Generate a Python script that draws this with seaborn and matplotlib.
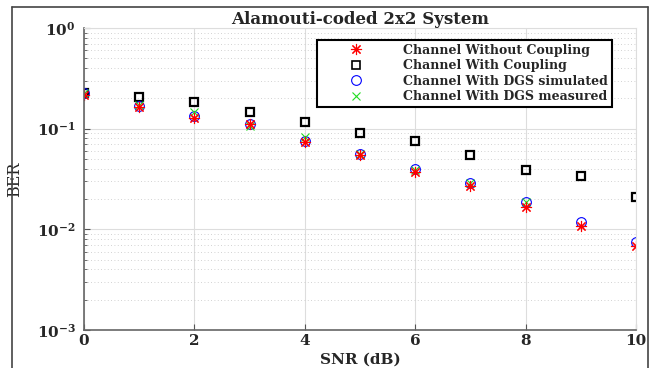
import numpy as np
import pandas as pd
import matplotlib
matplotlib.use("Agg")
import matplotlib.pyplot as plt
import seaborn as sns
from matplotlib.lines import Line2D
from matplotlib.ticker import LogLocator, FixedLocator, FixedFormatter, NullFormatter

snr = [0, 1, 2, 3, 4, 5, 6, 7, 8, 9, 10]
ber_no_coupling = [0.216, 0.165, 0.128, 0.111, 0.074, 0.055, 0.037, 0.027, 0.0167, 0.0108, 0.0068]
ber_coupling = [0.226, 0.208, 0.185, 0.146, 0.117, 0.090, 0.075, 0.0548, 0.0389, 0.0337, 0.0211]
ber_dgs_sim = [0.226, 0.168, 0.134, 0.111, 0.076, 0.056, 0.0395, 0.0291, 0.0187, 0.0119, 0.00755]
ber_dgs_meas = [0.226, 0.172, 0.147, 0.106, 0.083, 0.056, 0.039, 0.029, 0.0187, np.nan, np.nan]
labels = ["Channel Without Coupling", "Channel With Coupling",
          "Channel With DGS simulated", "Channel With DGS measured"]
title = "Alamouti-coded 2x2 System"

sns.set_style("white")
plt.rcParams['font.family'] = ['DejaVu Serif']
plt.rcParams['mathtext.fontset'] = 'dejavuserif'
plt.rcParams['mathtext.default'] = 'bf'

fig = plt.figure(figsize=(6.52, 3.68), dpi=100)
ax = fig.add_axes([84/652, 1-330/368, (636-84)/652, (330-28)/368])

df = pd.DataFrame({"snr": snr, "a": ber_no_coupling, "b": ber_coupling,
                   "c": ber_dgs_sim, "d": ber_dgs_meas})

star = (8, 2, 0)
sq_kw = dict(marker='s', markersize=6, markerfacecolor='none', markeredgecolor='black', markeredgewidth=1.6)
ci_kw = dict(marker='o', markersize=7, markerfacecolor='none', markeredgecolor='blue', markeredgewidth=0.8)
x_kw = dict(marker='x', markersize=6, markeredgecolor='#22dd22', markeredgewidth=0.8)
st_kw = dict(marker=star, markersize=8, markeredgecolor='red', markeredgewidth=0.8)

sns.lineplot(data=df, x="snr", y="b", ax=ax, linestyle='', color='black', **sq_kw)
sns.lineplot(data=df, x="snr", y="c", ax=ax, linestyle='', color='blue', **ci_kw)
sns.lineplot(data=df, x="snr", y="d", ax=ax, linestyle='', color='#22dd22', **x_kw)
sns.lineplot(data=df, x="snr", y="a", ax=ax, linestyle='', color='red', **st_kw)

ax.set_yscale('log')
ax.set_ylim(1e-3, 1)
ax.set_xlim(0, 10)
ax.set_xticks([0, 2, 4, 6, 8, 10])
ax.set_xticklabels(['0', '2', '4', '6', '8', '10'], fontweight='bold', fontsize=11)
ax.yaxis.set_major_locator(FixedLocator([1e-3, 1e-2, 1e-1, 1]))
ax.yaxis.set_major_formatter(FixedFormatter([r'$10^{-3}$', r'$10^{-2}$', r'$10^{-1}$', r'$10^{0}$']))
ax.yaxis.set_minor_locator(LogLocator(base=10, subs=np.arange(2, 10)))
ax.yaxis.set_minor_formatter(NullFormatter())
for t in ax.get_yticklabels():
    t.set_fontsize(11)

ax.grid(True, which='major', axis='both', color='#dddddd', linewidth=0.8, linestyle='-')
ax.grid(True, which='minor', axis='y', color='#c4c4c4', linewidth=0.6, linestyle=(0, (1, 3)))
ax.set_axisbelow(True)

ax.tick_params(axis='x', which='major', direction='in', length=4, color='#555555', pad=3, bottom=True)
ax.tick_params(axis='y', which='major', direction='in', length=4, color='#555555', pad=6, left=True)
ax.tick_params(axis='y', which='minor', direction='in', length=2, color='#555555', left=True)
for s in ['left', 'bottom']:
    ax.spines[s].set_color('#666666')
    ax.spines[s].set_linewidth(1.2)
for s in ['top', 'right']:
    ax.spines[s].set_color('#dddddd')
    ax.spines[s].set_linewidth(0.8)

ax.set_xlabel("SNR (dB)", fontweight='bold', fontsize=11, labelpad=3)
ax.set_ylabel("BER", fontsize=11.5, labelpad=10)
ax.set_title(title, fontweight='bold', fontsize=12, pad=3)

handles = [
    Line2D([], [], linestyle='', color='red', **st_kw),
    Line2D([], [], linestyle='', **{**sq_kw, 'markeredgewidth': 1.2}),
    Line2D([], [], linestyle='', **ci_kw),
    Line2D([], [], linestyle='', **x_kw),
]
leg = ax.legend(handles, labels, loc='upper left', bbox_to_anchor=(317/652, 1-40/368),
                bbox_transform=fig.transFigure, fancybox=False, framealpha=1,
                prop={'weight': 'bold', 'size': 9}, handlelength=5.6, handletextpad=1.0,
                borderpad=0.3, labelspacing=0.2, borderaxespad=0)
leg.get_frame().set_edgecolor('black')
leg.get_frame().set_linewidth(1.5)

# figure frame
x0, x1, y1 = 12/652, 648/652, 1-7/368
fig.add_artist(Line2D([x0, x0], [-0.1, y1], transform=fig.transFigure, color='#444444', lw=1.2))
fig.add_artist(Line2D([x1, x1], [-0.1, y1], transform=fig.transFigure, color='#444444', lw=1.2))
fig.add_artist(Line2D([x0, x1], [y1, y1], transform=fig.transFigure, color='#444444', lw=1.2))

fig.savefig("out.png", dpi=100)
